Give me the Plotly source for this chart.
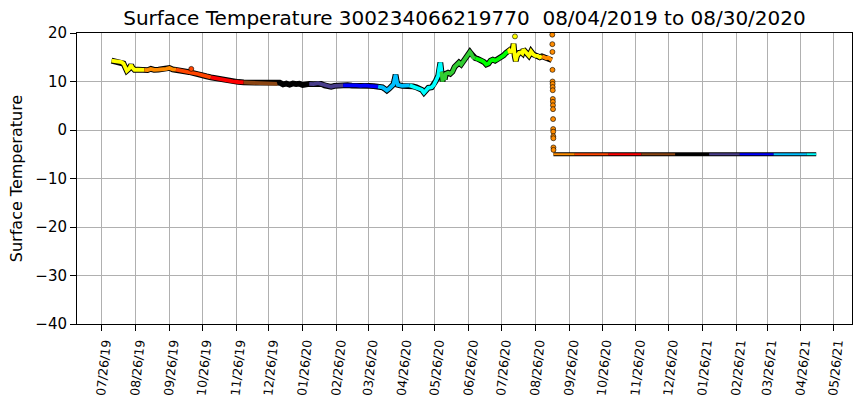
import pandas as pd
import plotly.graph_objects as go

title_text = "Surface Temperature 300234066219770 \u00a008/04/2019 to 08/30/2020"
y_title = "Surface Temperature"

# colour per calendar month (matplotlib named colours)
month_colors = {
    1: "#000000", 2: "#483D8B", 3: "#0000FF", 4: "#00BFFF", 5: "#00FFFF",
    6: "#32CD32", 7: "#00FF00", 8: "#FFFF00", 9: "#FF8C00", 10: "#FF4500",
    11: "#FF0000", 12: "#8B4513",
}

# drifting-buoy surface temperature
upper_dates = [
    "2019-08-04", "2019-08-07", "2019-08-10", "2019-08-13", "2019-08-15", "2019-08-16",
    "2019-08-17", "2019-08-18", "2019-08-20", "2019-08-21", "2019-08-22", "2019-08-23",
    "2019-08-25", "2019-08-28", "2019-08-31",
    "2019-09-03", "2019-09-06", "2019-09-09", "2019-09-12", "2019-09-16", "2019-09-20",
    "2019-09-23", "2019-09-26", "2019-09-29",
    "2019-10-02", "2019-10-06", "2019-10-10", "2019-10-14", "2019-10-18", "2019-10-22",
    "2019-10-26", "2019-10-30",
    "2019-11-03", "2019-11-08", "2019-11-13", "2019-11-18", "2019-11-23", "2019-11-28",
    "2019-12-03", "2019-12-09", "2019-12-15", "2019-12-21", "2019-12-27", "2019-12-31",
    "2020-01-03", "2020-01-05", "2020-01-08", "2020-01-11", "2020-01-14", "2020-01-17",
    "2020-01-20", "2020-01-23", "2020-01-26", "2020-01-29",
    "2020-02-01", "2020-02-05", "2020-02-09", "2020-02-12", "2020-02-15", "2020-02-18",
    "2020-02-21", "2020-02-24", "2020-02-28",
    "2020-03-03", "2020-03-07", "2020-03-11", "2020-03-15", "2020-03-19", "2020-03-23",
    "2020-03-27", "2020-03-31",
    "2020-04-04", "2020-04-08", "2020-04-10", "2020-04-12", "2020-04-14", "2020-04-16",
    "2020-04-18", "2020-04-19", "2020-04-20", "2020-04-21", "2020-04-22", "2020-04-26",
    "2020-04-30",
    "2020-05-03", "2020-05-06", "2020-05-09", "2020-05-12", "2020-05-14", "2020-05-16",
    "2020-05-18", "2020-05-20", "2020-05-23", "2020-05-25", "2020-05-27", "2020-05-29",
    "2020-05-30", "2020-05-31",
    "2020-06-01", "2020-06-02", "2020-06-03", "2020-06-04", "2020-06-05", "2020-06-07",
    "2020-06-09", "2020-06-11", "2020-06-13", "2020-06-15", "2020-06-17", "2020-06-19",
    "2020-06-21", "2020-06-23", "2020-06-25", "2020-06-27", "2020-06-28", "2020-06-30",
    "2020-07-02", "2020-07-04", "2020-07-06", "2020-07-08", "2020-07-10", "2020-07-12",
    "2020-07-14", "2020-07-16", "2020-07-18", "2020-07-20", "2020-07-22", "2020-07-24",
    "2020-07-26", "2020-07-28", "2020-07-30",
    "2020-08-01", "2020-08-02", "2020-08-03", "2020-08-04", "2020-08-05", "2020-08-06",
    "2020-08-07", "2020-08-08", "2020-08-09", "2020-08-11", "2020-08-13", "2020-08-14",
    "2020-08-15", "2020-08-16", "2020-08-18", "2020-08-20", "2020-08-21", "2020-08-22",
    "2020-08-24", "2020-08-26", "2020-08-28", "2020-08-30",
    "2020-09-01", "2020-09-03", "2020-09-05", "2020-09-07", "2020-09-09", "2020-09-10",
]
upper_temps = [
    14.3, 14.2, 14.15, 14.0, 13.7, 13.2,
    12.5, 12.2, 12.6, 13.3, 13.4, 12.9,
    12.4, 12.45, 12.4,
    12.4, 12.35, 12.6, 12.4, 12.45, 12.5,
    12.6, 12.8, 12.5,
    12.45, 12.3, 12.1, 11.95, 11.8, 11.55,
    11.3, 11.05,
    10.85, 10.6, 10.4, 10.25, 10.05, 9.9,
    9.8, 9.75, 9.7, 9.65, 9.6, 9.6,
    9.5, 9.75, 9.4, 9.6, 9.35, 9.6,
    9.45, 9.55, 9.3, 9.5,
    9.5, 9.45, 9.65, 9.5, 9.2, 9.0,
    8.9, 9.1, 9.2,
    9.2, 9.25, 9.15, 9.2, 9.1, 9.2,
    9.1, 9.05,
    8.95, 8.8, 8.5, 8.15, 8.5, 9.0,
    9.4, 10.3, 11.4, 10.1, 9.3, 9.1,
    9.1,
    9.2, 9.0, 8.8, 8.6, 8.3, 7.7,
    8.3, 8.7, 8.8, 9.3, 10.2, 11.2,
    12.8, 13.9,
    12.0, 10.0, 11.6, 10.4, 11.6, 11.8,
    11.6, 12.0, 13.0, 13.6, 13.9, 13.5,
    14.2, 14.8, 15.5, 16.1, 15.8, 15.0,
    14.8, 14.7, 14.5, 14.3, 14.0, 13.5,
    13.7, 14.3, 14.5, 14.3, 14.5, 14.8,
    15.0, 15.4, 15.9,
    16.2, 16.4, 15.9, 16.5, 16.2, 17.8,
    15.3, 14.2, 15.2, 15.9, 16.0, 15.8,
    16.6, 16.3, 15.6, 15.3, 15.7, 16.2,
    15.6, 15.3, 15.3, 15.0,
    15.2, 15.0, 14.8, 14.9, 14.6, 14.4,
]

# isolated readings sitting off the main trace
stray_dates = ["2019-10-16", "2020-08-07 06:00"]
stray_temps = [12.6, 19.3]

# the fall to the sensor floor (September 2020 readings)
drop_dates = [
    "2020-09-10 10:00", "2020-09-10 11:30", "2020-09-10 13:00", "2020-09-10 14:30",
    "2020-09-10 16:00", "2020-09-10 17:30", "2020-09-10 19:00", "2020-09-10 20:30",
    "2020-09-10 22:00", "2020-09-10 23:30", "2020-09-11 01:00", "2020-09-11 02:30",
    "2020-09-11 04:00", "2020-09-11 05:30", "2020-09-11 07:00", "2020-09-11 08:30",
    "2020-09-11 10:00", "2020-09-11 11:30", "2020-09-11 13:00",
]
drop_temps = [
    19.65, 17.7, 16.1, 12.4, 10.0, 9.5, 8.85, 8.2, 6.4, 5.8,
    5.1, 4.3, 2.25, 0.2, -0.35, -1.3, -1.7, -3.6, -4.1,
]

# flat floor value afterwards, split at month boundaries
flat_bounds = [
    "2020-09-11 12:00", "2020-10-01", "2020-11-01", "2020-12-01", "2021-01-01",
    "2021-02-01", "2021-03-01", "2021-04-01", "2021-05-01", "2021-05-10",
]
flat_temp = -5.0

tick_dates = [
    "2019-07-26", "2019-08-26", "2019-09-26", "2019-10-26", "2019-11-26", "2019-12-26",
    "2020-01-26", "2020-02-26", "2020-03-26", "2020-04-26", "2020-05-26", "2020-06-26",
    "2020-07-26", "2020-08-26", "2020-09-26", "2020-10-26", "2020-11-26", "2020-12-26",
    "2021-01-26", "2021-02-26", "2021-03-26", "2021-04-26", "2021-05-26",
]
tick_labels = [pd.Timestamp(d).strftime("%m/%d/%y") for d in tick_dates]
y_ticks = [-40, -30, -20, -10, 0, 10, 20]

fig = go.Figure()

# ---- main trace: black outline underneath, monthly colours on top
fig.add_trace(go.Scatter(x=upper_dates, y=upper_temps, mode="lines",
                         line=dict(color="black", width=5.8), hoverinfo="skip"))
ud = pd.to_datetime(pd.Series(upper_dates))
keys = list(zip(ud.dt.year, ud.dt.month))
start = 0
n = len(upper_dates)
for i in range(1, n + 1):
    if i == n or keys[i] != keys[start]:
        end = min(i + 1, n)
        fig.add_trace(go.Scatter(
            x=upper_dates[start:end], y=upper_temps[start:end], mode="lines",
            line=dict(color=month_colors[keys[start][1]], width=3.8), hoverinfo="skip"))
        start = i

# ---- floor segment
fig.add_trace(go.Scatter(x=[flat_bounds[0], flat_bounds[-1]], y=[flat_temp, flat_temp],
                         mode="lines", line=dict(color="black", width=3.8), hoverinfo="skip"))
for a, b in zip(flat_bounds[:-1], flat_bounds[1:]):
    m = pd.Timestamp(a).month
    fig.add_trace(go.Scatter(x=[a, b], y=[flat_temp, flat_temp], mode="lines",
                             line=dict(color=month_colors[m], width=2.0), hoverinfo="skip"))

# ---- individual dots
fig.add_trace(go.Scatter(
    x=drop_dates, y=drop_temps, mode="markers",
    marker=dict(size=5, color=[month_colors[pd.Timestamp(d).month] for d in drop_dates],
                line=dict(color="black", width=0.6)), hoverinfo="skip"))
fig.add_trace(go.Scatter(
    x=stray_dates, y=stray_temps, mode="markers",
    marker=dict(size=5, color=[month_colors[pd.Timestamp(d).month] for d in stray_dates],
                line=dict(color="black", width=0.6)), hoverinfo="skip"))

font_family = "DejaVu Sans"
fig.update_layout(
    width=860, height=408,
    margin=dict(l=77, r=8, t=33, b=84, autoexpand=False),
    paper_bgcolor="white", plot_bgcolor="white",
    showlegend=False,
    font=dict(family=font_family, color="black"),
    title=dict(text=title_text, x=0.5, xref="paper", xanchor="center",
               y=1 - 18 / 408, yref="container", yanchor="middle", automargin=False,
               font=dict(size=20, family=font_family, color="black")),
)
fig.update_xaxes(
    type="date", automargin=False,
    range=["2019-07-03 10:00", "2021-06-11 18:00"],
    tickmode="array", tickvals=tick_dates, ticktext=tick_labels,
    tickangle=-84, tickfont=dict(size=12.5, family=font_family, color="black"),
    ticklabelshift=3,
    showgrid=True, gridcolor="#b0b0b0", gridwidth=1,
    showline=True, linecolor="black", linewidth=1, mirror=True,
    ticks="outside", ticklen=6, tickcolor="black", tickwidth=1,
    zeroline=False,
)
fig.update_yaxes(
    automargin=False,
    range=[-40, 20],
    tickmode="array", tickvals=y_ticks,
    tickfont=dict(size=15, family=font_family, color="black"),
    title=dict(text=y_title, font=dict(size=16, family=font_family, color="black"), standoff=8),
    showgrid=True, gridcolor="#b0b0b0", gridwidth=1,
    showline=True, linecolor="black", linewidth=1, mirror=True,
    ticks="outside", ticklen=6, tickcolor="black", tickwidth=1,
    zeroline=False,
)

fig.write_html(
    "out.html",
    config={"displayModeBar": False, "staticPlot": True},
    post_script="document.body.style.margin='0';document.body.style.overflow='hidden';",
)
